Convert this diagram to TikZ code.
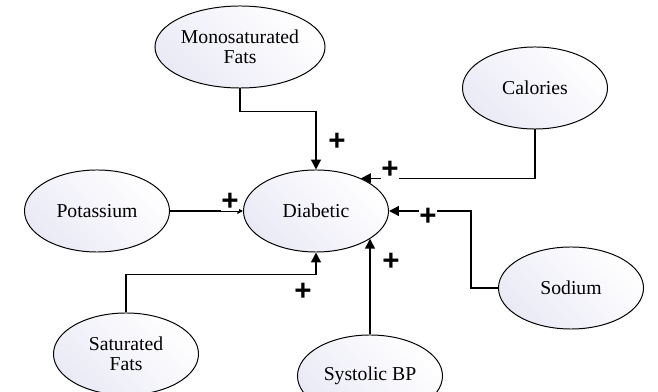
\documentclass[tikz,border=0pt]{standalone}
\usepackage{fontspec}
\setmainfont{Liberation Serif}
\newfontfamily\varfont{Liberation Serif}
\newfontfamily\plusfont{Liberation Sans}
\usepackage{tikz}
\usetikzlibrary{shapes.geometric,arrows.meta}
\definecolor{ellfill}{RGB}{234,234,246}

\begin{document}
\begin{tikzpicture} [x=0.025cm,y=-0.025cm,
    var/.style={ellipse, draw, line width=0.7pt, shading=axis, top color=white, bottom color=ellfill, shading angle=-45, minimum width=3.625cm, minimum height=2.05cm, inner sep=0pt, align=center, font=\varfont\fontsize{14}{14.5}\selectfont},
    link/.style={line width=1pt, -{Triangle[length=7pt,width=7pt]}},
    sign/.style={fill=white, inner sep=0.5pt, font=\plusfont\bfseries\fontsize{21}{21}\selectfont}]
        \useasboundingbox (0,0) rectangle (658,392);
        \node[var] (diab) at (316,211) {Diabetic}; \node[var, minimum width=4.25cm] (mono) at (240,47) {Monosaturated\\Fats}; \node[var] (cal) at (535,88) {Calories}; \node[var] (pot) at (97,211) {Potassium}; \node[var] (sod) at (571,288) {Sodium}; \node[var] (sat) at (126,354) {Saturated\\Fats}; \node[var] (sys) at (370,376) {Systolic BP};
        \draw[link] (mono.south) -- ++(0,23) -| (diab.north); \draw[link] (cal.south) |- (diab.36); \draw[link, -{Triangle[length=4pt,width=4pt]}] (pot.east) -- (diab.west); \draw[link] (sod.west) -- ++(-27,0) |- (diab.east); \draw[link] (sat.north) -- ++(0,-38) -| (diab.south); \draw[link] (sys.north) -- (sys.north |- diab.-27);
        \node[sign] (pmono) at (337,142) {+}; \node[sign] (pcal) at (390,170) {+}; \node[sign] (ppot) at (230,202) {+}; \node[sign] (psod) at (428,217) {+}; \node[sign] (psat) at (303,292) {+}; \node[sign] (psys) at (391,262) {+};
    \end{tikzpicture}
\end{document}
